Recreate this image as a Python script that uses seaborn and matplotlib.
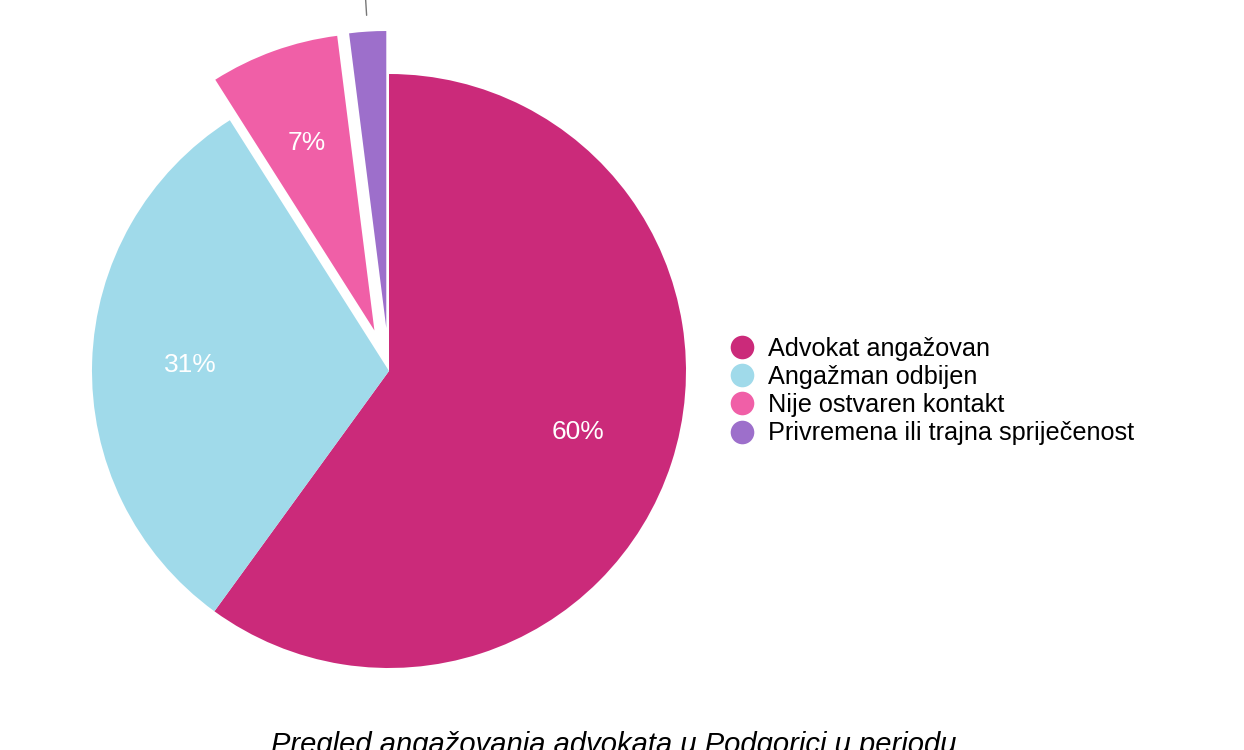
import matplotlib
matplotlib.use("Agg")
import matplotlib.pyplot as plt
from matplotlib.lines import Line2D
import numpy as np
import seaborn as sns

categories = ["Advokat angažovan", "Angažman odbijen", "Nije ostvaren kontakt",
              "Privremena ili trajna spriječenost"]
values = [60, 31, 7, 2]
pct_labels = ["60%", "31%", "7%", "2%"]
colors = ["#CB2A7A", "#A0DAEA", "#F05FA7", "#9D6FCB"]
explode = [0, 0, 0.145, 0.145]
title = "Pregled angažovanja advokata u Podgorici u periodu"

sns.set_theme(style="white")
plt.rcParams["font.family"] = ["Liberation Sans", "DejaVu Sans"]
plt.rcParams["text.color"] = "black"

fig = plt.figure(figsize=(12.44, 7.5), dpi=100)
ax = fig.add_axes([0, 0, 1, 1])
R = 297.0
cx, cy = 389.0, 371.0

wedges, texts, autotexts = ax.pie(
    values, colors=colors, startangle=90, counterclock=False,
    explode=explode, radius=1.0, autopct="%1.0f%%", pctdistance=0.67,
    wedgeprops=dict(linewidth=0), textprops=dict(color="white", fontsize=19))

ax.set_xlim(-cx / R, (1244 - cx) / R)
ax.set_ylim(-(750 - cy) / R, cy / R)
ax.set_aspect("auto")
ax.axis("off")

for t, lab in zip(autotexts, pct_labels):
    t.set_text(lab)

# small slice: label placed outside (beyond the top edge) with a leader line
w = wedges[3]
mid = np.deg2rad((w.theta1 + w.theta2) / 2)
autotexts[3].set_position((1.75 * np.cos(mid), 1.75 * np.sin(mid)))
autotexts[3].set_color("#333333")
ax.plot([1.2 * np.cos(mid), 1.6 * np.cos(mid)], [1.2 * np.sin(mid), 1.6 * np.sin(mid)],
        color="#777777", linewidth=1.0, clip_on=False)

handles = [Line2D([0], [0], marker="o", linestyle="", markersize=17,
                  markerfacecolor=c, markeredgewidth=0) for c in colors]
leg = ax.legend(handles, categories, loc="center left",
                bbox_to_anchor=(729 / 1244, (750 - 391) / 750), frameon=False, fontsize=18.2,
                labelspacing=0.17, handletextpad=0.55, handlelength=1.0,
                borderpad=0, borderaxespad=0)
for t in leg.get_texts():
    t.set_color("black")

fig.text(613.5 / 1244, -0.004, title, ha="center", va="baseline",
         fontsize=21, fontstyle="italic", color="black")

fig.savefig("out.png", dpi=100)
